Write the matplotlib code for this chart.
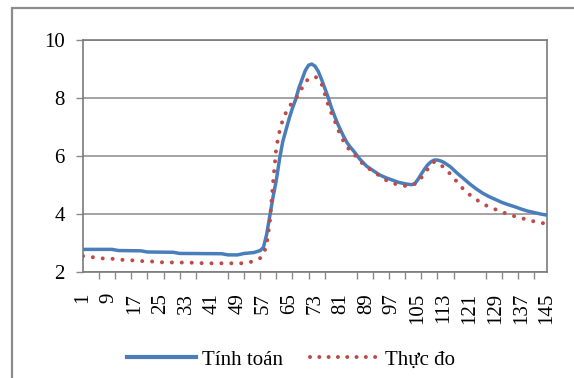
import matplotlib
matplotlib.use("Agg")
import matplotlib.pyplot as plt
from matplotlib.patches import Rectangle
from matplotlib.lines import Line2D

# Data (category index, value)
calc_x = [1, 10, 12, 19, 21, 29, 31, 44, 46, 49, 51, 54, 56, 57, 58, 59, 60, 61, 62, 63, 64, 65,
          66, 67, 68, 69, 70, 71, 72, 73, 74, 75, 76, 77, 78, 79, 80, 81, 82, 83, 84, 85, 87, 89,
          91, 93, 95, 97, 99, 101, 103, 104, 105, 106, 107, 108, 109, 110, 111, 112, 113, 115,
          117, 119, 121, 123, 125, 127, 129, 131, 133, 135, 137, 139, 141, 143, 145]
calc_y = [2.78, 2.78, 2.74, 2.73, 2.69, 2.68, 2.64, 2.63, 2.59, 2.59, 2.64, 2.67, 2.74, 2.85, 3.3,
          3.95, 4.6, 5.17, 5.9, 6.5, 6.9, 7.3, 7.65, 7.95, 8.35, 8.65, 8.95, 9.13, 9.17, 9.1, 8.92,
          8.65, 8.35, 8.05, 7.7, 7.4, 7.12, 6.88, 6.65, 6.45, 6.3, 6.17, 5.88, 5.65, 5.5, 5.35,
          5.25, 5.17, 5.09, 5.04, 5.01, 5.05, 5.2, 5.38, 5.55, 5.7, 5.8, 5.86, 5.86, 5.83, 5.78,
          5.63, 5.42, 5.23, 5.04, 4.87, 4.72, 4.6, 4.5, 4.4, 4.32, 4.25, 4.17, 4.1, 4.05, 4.0, 3.96]

meas_x = [1, 4, 7, 11, 14, 17, 20, 23, 26, 30, 35, 39, 45, 51, 54, 56, 57, 58, 59, 60, 61, 62, 63,
          64, 65, 66, 67, 68, 69, 70, 71, 72, 73, 74, 75, 76, 77, 78, 79, 80, 81, 82, 83, 85, 87,
          89, 91, 93, 95, 97, 99, 101, 103, 105, 107, 109, 110, 111, 112, 114, 116, 118, 120, 122,
          124, 126, 128, 130, 132, 134, 136, 138, 140, 142, 145]
meas_y = [2.55, 2.51, 2.47, 2.45, 2.41, 2.4, 2.37, 2.36, 2.33, 2.33, 2.32, 2.3, 2.3, 2.3, 2.37, 2.48,
          2.6, 2.95, 3.75, 5.1, 6.3, 6.85, 7.25, 7.5, 7.7, 7.85, 7.97, 8.15, 8.35, 8.55, 8.66, 8.72,
          8.73, 8.68, 8.5, 8.15, 7.8, 7.5, 7.25, 6.95, 6.7, 6.48, 6.3, 6.08, 5.82, 5.62, 5.47, 5.32,
          5.17, 5.07, 5.0, 4.97, 4.98, 5.1, 5.4, 5.7, 5.8, 5.78, 5.7, 5.5, 5.25, 4.98, 4.75, 4.58,
          4.43, 4.3, 4.2, 4.12, 4.03, 3.95, 3.89, 3.83, 3.77, 3.72, 3.66]

xtick_labels = list(range(1, 146, 8))
yticks = [2, 4, 6, 8, 10]
series_names = ["Tính toán", "Thực đo"]

blue = "#4a7ebb"
red = "#be4b48"
font = "Liberation Serif"
fs = 15

W, H = 574, 378
fig = plt.figure(figsize=(W / 100, H / 100), dpi=100)
fig.patch.set_facecolor("white")

# outer chart border
fig.patches.append(Rectangle((12 / W, -0.1), 1.2, 1 - 8 / H + 0.1, transform=fig.transFigure,
                             fill=False, edgecolor="#8c8c8c", linewidth=1.6))

ax = fig.add_axes([83 / W, 1 - 272 / H, (547 - 83) / W, (272 - 40) / H])
ax.set_xlim(1, 145)
ax.set_ylim(2, 10)

ax.plot(calc_x, calc_y, color=blue, linewidth=2.5, solid_capstyle="round", zorder=3)
dot_style = (0, (0.01, 2.45))
ax.plot(meas_x, meas_y, color=red, linewidth=2.9, linestyle=dot_style,
        dash_capstyle="round", zorder=4)

ax.set_yticks(yticks)
ax.set_yticklabels([str(v) for v in yticks], fontfamily=font, fontsize=fs)
ax.yaxis.grid(True, color="#8a8a8a", linewidth=1.1)
ax.set_axisbelow(True)
ax.tick_params(axis="y", length=5, width=1, color="#8a8a8a", pad=8)

ax.set_xticks(xtick_labels)
ax.set_xticklabels([str(v) for v in xtick_labels], fontfamily=font, fontsize=fs,
                   rotation=90, va="top", ha="center")
ax.set_xticks(list(range(1, 146, 5)), minor=True)
ax.tick_params(axis="x", which="major", length=0, pad=15)
ax.tick_params(axis="x", which="minor", length=5, width=1, color="#8a8a8a")

for s in ax.spines.values():
    s.set_color("#7a7a7a")
    s.set_linewidth(1.2)

handles = [Line2D([], [], color=blue, linewidth=3.0),
           Line2D([], [], color=red, linewidth=2.9, linestyle=(0, (0.01, 2.3)),
                  dash_capstyle="round")]
fig.legend(handles, series_names, loc="center", bbox_to_anchor=(291 / W, 1 - 360 / H), ncol=2,
           frameon=False, prop={"family": font, "size": fs}, handlelength=3.3,
           handletextpad=0.3, columnspacing=1.3, borderpad=0)

fig.savefig("out.png", dpi=100, facecolor="white")
